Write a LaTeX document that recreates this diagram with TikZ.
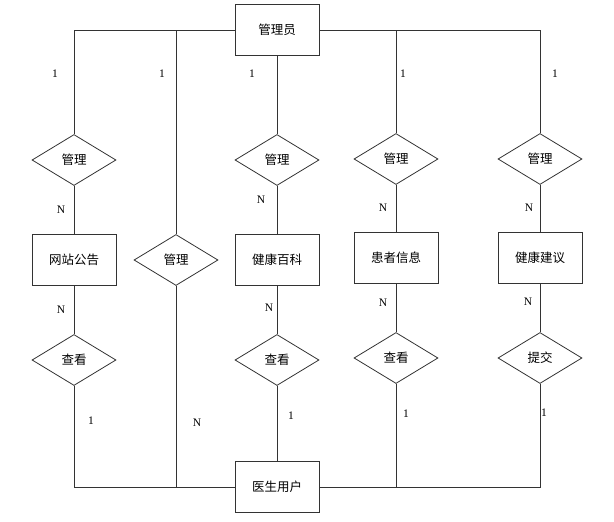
\documentclass[tikz,border=0pt]{standalone}
\usepackage{fontspec}
\setmainfont{Liberation Serif}
\newfontfamily\cjk{Noto Sans CJK SC}
\usetikzlibrary{shapes.geometric,positioning}

\begin{document}
\begin{tikzpicture}
[x=1pt,y=1pt,
link/.style={draw=black!80,line width=0.8pt},
entity/.style={rectangle,draw=black!80,line width=0.9pt,minimum width=84pt,minimum height=51pt,inner sep=0pt,font=\cjk\fontsize{12.5}{14}\selectfont},
relation/.style={diamond,draw=black!80,line width=0.8pt,minimum width=84pt,minimum height=51pt,aspect=1.65,inner sep=0pt,font=\cjk\fontsize{12.5}{14}\selectfont},
card/.style={inner sep=0pt,font=\fontsize{11.5}{13}\selectfont}]
\useasboundingbox (0,0) rectangle (614,-522);
% entities
\node [entity] (admin) at (277,-30) {管理员};
\node [entity] (notice) at (74,-260) {网站公告};
\node [entity] (wiki) at (277,-260) {健康百科};
\node [entity] (patient) at (396,-258) {患者信息};
\node [entity] (advice) at (540,-258) {健康建议};
\node [entity] (doctor) at (277,-487) {医生用户};
% relations
\node [relation] (manage1) at (74,-160) {管理};
\node [relation] (manage2) at (176,-260) {管理};
\node [relation] (manage3) at (277,-160) {管理};
\node [relation] (manage4) at (396,-159) {管理};
\node [relation] (manage5) at (540,-159) {管理};
\node [relation] (view1) at (74,-360) {查看};
\node [relation] (view3) at (277,-360) {查看};
\node [relation] (view4) at (396,-358) {查看};
\node [relation] (submit5) at (540,-358) {提交};
% connectors
\draw [link] (admin.west) -| (manage1.north);
\draw [link] (admin.west) -| (manage2.north);
\draw [link] (admin) -- (manage3);
\draw [link] (admin.east) -| (manage4.north);
\draw [link] (admin.east) -| (manage5.north);
\draw [link] (manage1) -- (notice) -- (view1);
\draw [link] (manage3) -- (wiki) -- (view3) -- (doctor);
\draw [link] (manage4) -- (patient) -- (view4);
\draw [link] (manage5) -- (advice) -- (submit5);
\draw [link] (view1.south) |- (doctor.west);
\draw [link] (manage2.south) |- (doctor.west);
\draw [link] (view4.south) |- (doctor.east);
\draw [link] (submit5.south) |- (doctor.east);
% cardinalities
\node [card] (c11) at (55,-74) {1};
\node [card] (c21) at (162,-74) {1};
\node [card] (c31) at (252,-74) {1};
\node [card] (c41) at (403,-74) {1};
\node [card] (c51) at (555,-74) {1};
\node [card] (c12) at (61,-210) {N};
\node [card] (c32) at (261,-200) {N};
\node [card] (c42) at (383,-208) {N};
\node [card] (c52) at (529,-208) {N};
\node [card] (c13) at (61,-310) {N};
\node [card] (c33) at (269,-308) {N};
\node [card] (c43) at (383,-303) {N};
\node [card] (c53) at (528,-302) {N};
\node [card] (c14) at (91,-421) {1};
\node [card] (c24) at (197,-423) {N};
\node [card] (c34) at (291,-416) {1};
\node [card] (c44) at (406,-414) {1};
\node [card] (c54) at (544,-413) {1};
\end{tikzpicture}
\end{document}
